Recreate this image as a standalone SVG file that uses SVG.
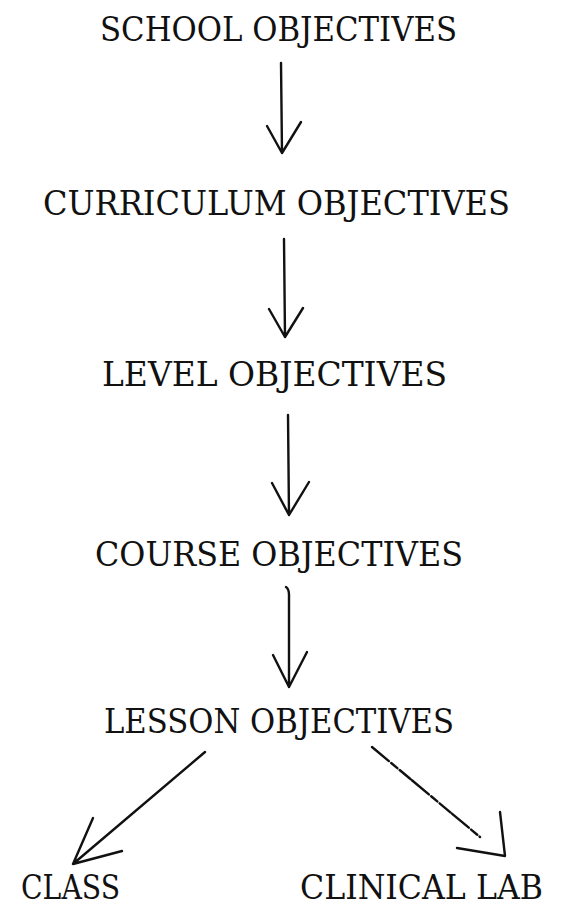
<svg xmlns="http://www.w3.org/2000/svg" width="580" height="906" viewBox="0 0 580 906">
<style>
.t{font-family:"DejaVu Serif","Liberation Serif",serif;font-size:33px;fill:#111;}
.c{fill:none;stroke:#111;stroke-width:2.4;stroke-linecap:round;stroke-linejoin:round;}
.b{stroke-dasharray:22 3 8 3 14 2;}
</style>
<rect width="580" height="906" fill="#fff"/>
<g id="school"><text class="t" x="100" y="41" textLength="357" lengthAdjust="spacingAndGlyphs">SCHOOL OBJECTIVES</text></g>
<g id="curriculum"><text class="t" x="43" y="215" textLength="467" lengthAdjust="spacingAndGlyphs">CURRICULUM OBJECTIVES</text></g>
<g id="level"><text class="t" x="102" y="386" textLength="345" lengthAdjust="spacingAndGlyphs">LEVEL OBJECTIVES</text></g>
<g id="course"><text class="t" x="95" y="566" textLength="368" lengthAdjust="spacingAndGlyphs">COURSE OBJECTIVES</text></g>
<g id="lesson"><text class="t" x="104" y="733" textLength="350" lengthAdjust="spacingAndGlyphs">LESSON OBJECTIVES</text></g>
<g id="class"><text class="t" x="21" y="899" textLength="99" lengthAdjust="spacingAndGlyphs">CLASS</text></g>
<g id="clinical"><text class="t" x="300" y="899" textLength="243" lengthAdjust="spacingAndGlyphs">CLINICAL LAB</text></g>
<g id="connectors">
<path class="c" d="M281,63 L282,153 M267,126 L282,153 L301,122"/>
<path class="c" d="M284,239 L285,337 M269,309 L285,337 L303,308"/>
<path class="c" d="M288,415 L289,515 M272,483 L289,515 L309,482"/>
<path class="c" d="M286,587 Q289,589 289,595 L289,687 M273,655 L289,687 L307,652"/>
<path class="c" d="M205,752 L73,864 M93,818 L73,864 L122,851"/>
<path class="c b" d="M372,747 L480,837"/>
<path class="c" d="M500,812 L505,856 L457,848"/>
</g>
</svg>
